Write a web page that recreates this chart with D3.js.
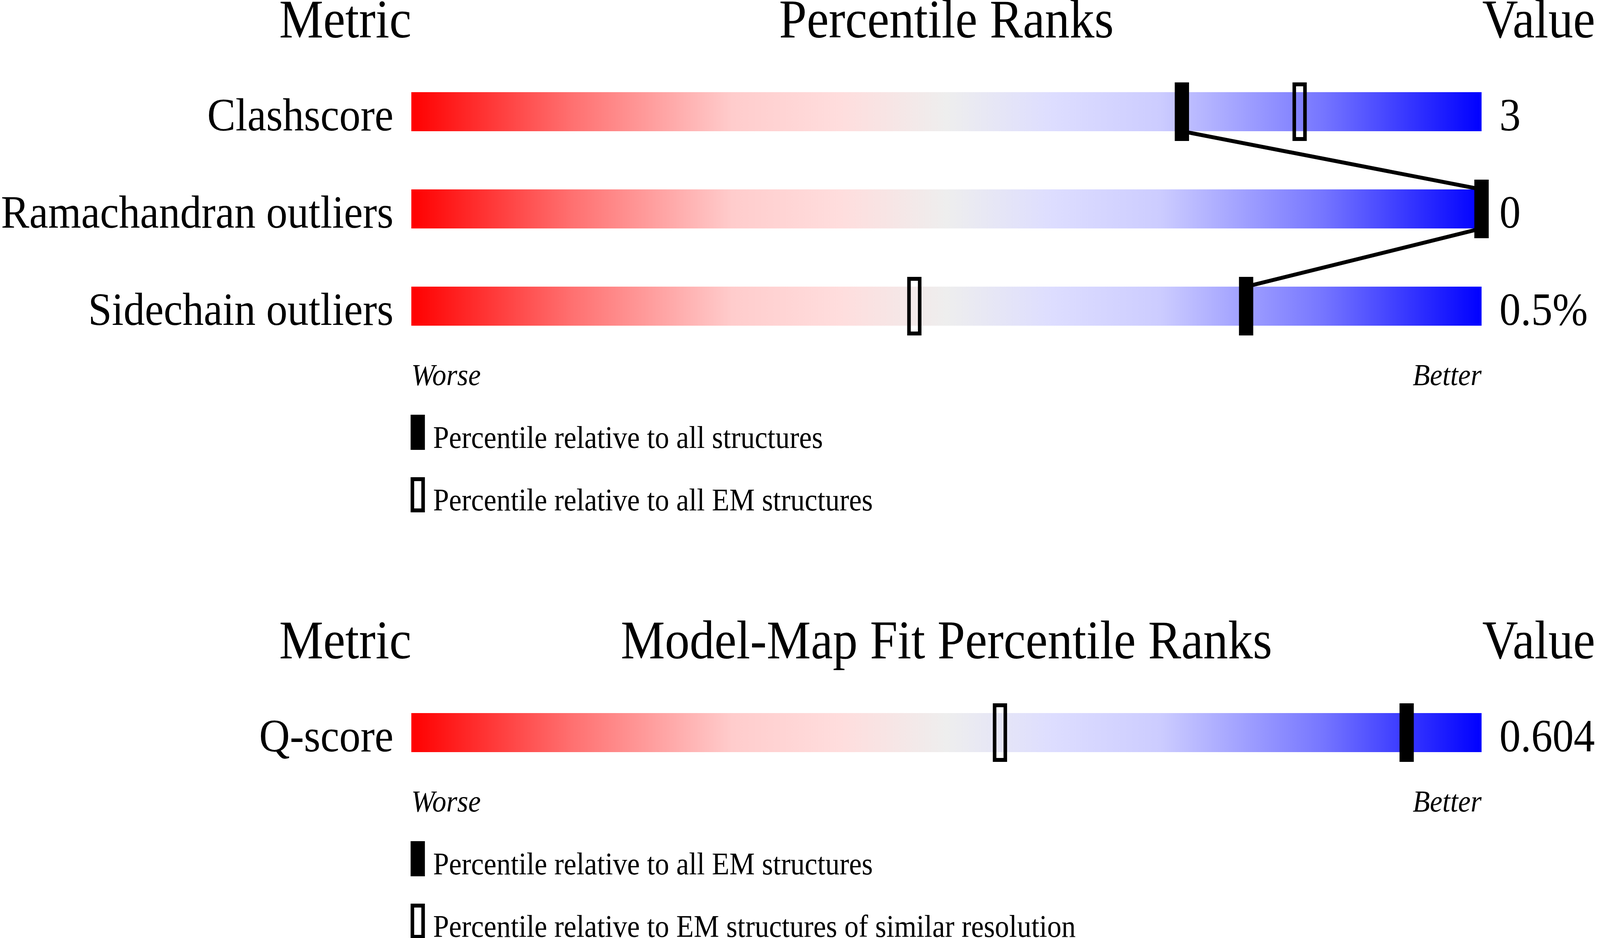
<!DOCTYPE html>
<html>
<head>
<meta charset="utf-8">
<script src="https://cdn.jsdelivr.net/npm/d3@7"></script>
<style>
  html, body { margin: 0; padding: 0; background: #ffffff; overflow: hidden; }
  svg { display: block; width: 100vw; height: 100vh; }
  text { font-family: 'Liberation Serif', 'Times New Roman', serif; fill: #000000; }
</style>
</head>
<body>
<svg id="chart"></svg>
<script>
// Panel 1: geometry validation
const geoMetrics = ['Clashscore', 'Ramachandran outliers', 'Sidechain outliers'];
const geoValues = ['3', '0', '0.5%'];
const geoPctAll = [72, 100, 78];
const geoPctEM = [83, 100, 47];
const geoLegend = ['Percentile relative to all structures', 'Percentile relative to all EM structures'];

// Panel 2: model-map fit
const fitMetrics = ['Q-score'];
const fitValues = ['0.604'];
const fitPctEM = [93];
const fitPctRes = [55];
const fitLegend = ['Percentile relative to all EM structures', 'Percentile relative to EM structures of similar resolution'];

const width = 4485;
const height = 2402;

// viewBox stretched onto the viewport (the window can be narrower than 4485)
const svg = d3.select('#chart')
  .attr('viewBox', `0 0 ${width} ${height}`)
  .attr('preserveAspectRatio', 'none');

const defs = svg.append('defs');

// Red -> grey -> blue slider gradient
const sliderGradient = defs
  .append('linearGradient')
  .attr('id', 'slider-gradient')
  .attr('x1', '0%')
  .attr('x2', '100%')
  .attr('y1', '0%')
  .attr('y2', '0%');
sliderGradient
  .selectAll('stop')
  .data([
    [0, '#ff0000'],
    [0.15, '#ff7070'],
    [0.3, '#ffcccc'],
    [0.4, '#ffdddd'],
    [0.5, '#eeeeee'],
    [0.6, '#ddddff'],
    [0.7, '#ccccff'],
    [0.85, '#7777ff'],
    [1, '#0000ff'],
  ])
  .enter()
  .append('stop')
  .attr('offset', (d) => d[0])
  .attr('stop-color', (d) => d[1]);

const x = d3.scaleLinear().domain([0, 100]).range([1153, 4153]);

const rowStep = 249;
const barPad = 149 / rowStep; // gap between bars as a share of the step
const edge = 10; // stroke of hollow markers and connecting line

function drawPanel(top, title, metrics, values, pctFilled, pctHollow, legend, connect) {
  const g = svg.append('g');

  const barTop = top + 236;
  const y = d3
    .scaleBand()
    .domain(metrics)
    .range([barTop, barTop + metrics.length * rowStep])
    .paddingInner(barPad)
    .paddingOuter(barPad / 2)
    .align(0);

  // Column headers
  g.append('text')
    .attr('x', x(0))
    .attr('y', top + 96)
    .attr('text-anchor', 'end')
    .style('font-size', '139px')
    .text('Metric');
  g.append('text')
    .attr('x', (x(0) + x(100)) / 2)
    .attr('y', top + 96)
    .attr('text-anchor', 'middle')
    .style('font-size', '139px')
    .text(title);
  g.append('text')
    .attr('x', x(100) + 2)
    .attr('y', top + 96)
    .attr('text-anchor', 'start')
    .style('font-size', '139px')
    .text('Value');

  // Gradient bars
  g.selectAll('rect.bar')
    .data(metrics)
    .enter()
    .append('rect')
    .attr('class', 'bar')
    .attr('x', x(0))
    .attr('y', (d) => y(d))
    .attr('width', x(100) - x(0))
    .attr('height', y.bandwidth())
    .attr('fill', 'url(#slider-gradient)');

  // Metric names and values
  g.selectAll('text.metric')
    .data(metrics)
    .enter()
    .append('text')
    .attr('class', 'metric')
    .attr('x', x(0) - 50)
    .attr('y', (d) => y(d) + y.bandwidth() - 2)
    .attr('text-anchor', 'end')
    .style('font-size', '119px')
    .text((d) => d);
  g.selectAll('text.value')
    .data(values)
    .enter()
    .append('text')
    .attr('class', 'value')
    .attr('x', x(100) + 50)
    .attr('y', (d, i) => y(metrics[i]) + y.bandwidth() - 2)
    .style('font-size', '119px')
    .text((d) => d);

  // Connecting line through the filled markers
  if (connect) {
    const pts = [];
    metrics.forEach((m, i) => {
      pts.push([x(pctFilled[i]), y(m)]);
      pts.push([x(pctFilled[i]), y(m) + y.bandwidth()]);
    });
    g.append('path')
      .datum(pts)
      .attr('d', d3.line())
      .attr('fill', 'none')
      .attr('stroke', '#000000')
      .attr('stroke-width', edge);
  }

  // Hollow markers (outer box 40 x 150)
  g.selectAll('rect.hollow')
    .data(pctHollow)
    .enter()
    .append('rect')
    .attr('class', 'hollow')
    .attr('x', (d) => x(d) - 20 + edge / 2)
    .attr('y', (d, i) => y(metrics[i]) - 25 + edge / 2)
    .attr('width', 40 - edge)
    .attr('height', y.bandwidth() + 50 - edge)
    .attr('fill', 'none')
    .attr('stroke', '#000000')
    .attr('stroke-width', edge);

  // Filled markers
  g.selectAll('rect.filled')
    .data(pctFilled)
    .enter()
    .append('rect')
    .attr('class', 'filled')
    .attr('x', (d) => x(d) - 20)
    .attr('y', (d, i) => y(metrics[i]) - 25)
    .attr('width', 40)
    .attr('height', y.bandwidth() + 50)
    .attr('fill', '#000000');

  const barBottom = y(metrics[metrics.length - 1]) + y.bandwidth();

  // Worse / Better
  g.append('text')
    .attr('x', x(0))
    .attr('y', barBottom + 152)
    .style('font-size', '79px')
    .style('font-style', 'italic')
    .text('Worse');
  g.append('text')
    .attr('x', x(100))
    .attr('y', barBottom + 152)
    .attr('text-anchor', 'end')
    .style('font-size', '79px')
    .style('font-style', 'italic')
    .text('Better');

  // Legend
  const legendY = (i) => barBottom + 228 + i * 160;
  g.append('rect')
    .attr('x', x(0) - 2)
    .attr('y', legendY(0))
    .attr('width', 40)
    .attr('height', 90)
    .attr('fill', '#000000');
  g.append('rect')
    .attr('x', x(0) - 2 + edge / 2)
    .attr('y', legendY(1) + edge / 2)
    .attr('width', 40 - edge)
    .attr('height', 90 - edge)
    .attr('fill', 'none')
    .attr('stroke', '#000000')
    .attr('stroke-width', edge);
  g.selectAll('text.legend')
    .data(legend)
    .enter()
    .append('text')
    .attr('class', 'legend')
    .attr('x', x(0) + 61)
    .attr('y', (d, i) => legendY(i) + 85)
    .style('font-size', '80px')
    .text((d) => d);
}

drawPanel(0, 'Percentile Ranks', geoMetrics, geoValues, geoPctAll, geoPctEM, geoLegend, true);
drawPanel(1590, 'Model-Map Fit Percentile Ranks', fitMetrics, fitValues, fitPctEM, fitPctRes, fitLegend, false);
</script>
</body>
</html>
